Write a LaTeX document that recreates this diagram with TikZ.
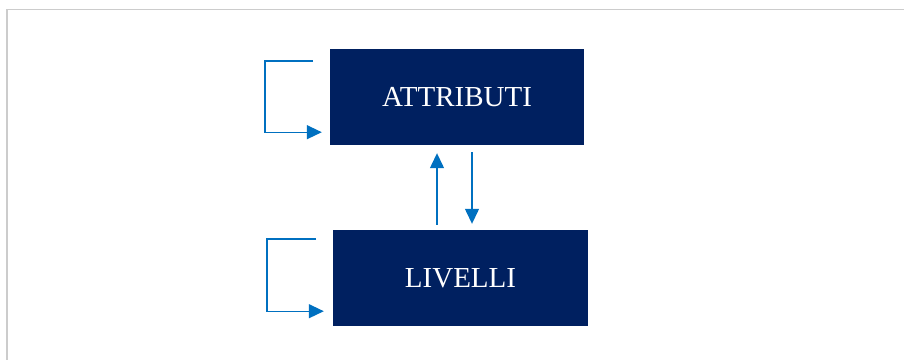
\documentclass[tikz,border=0pt]{standalone}
\usepackage{fontspec}
\setmainfont{Liberation Serif}
\usetikzlibrary{arrows.meta,calc,positioning}
\definecolor{boxnavy}{RGB}{0,32,96}
\definecolor{flowblue}{RGB}{0,112,192}
\definecolor{framegrey}{RGB}{204,204,204}

\begin{document}
\begin{tikzpicture}[x=1pt, y=-1pt,
    box/.style={fill=boxnavy, draw=none, text=white, inner sep=0pt,
        minimum width=254pt, minimum height=96pt,
        font=\fontsize{29}{34}\selectfont},
    flow/.style={draw=flowblue, line width=1.3pt,
        -{Triangle[length=15pt, width=14pt]}}
]
    \useasboundingbox (0,0) rectangle (904,360);

    % 1. cornice grigia (solo lati alto e sinistra visibili)
    \draw[framegrey, line width=1.5pt] (904,9.5) -- (7,9.5) -- (7,360);

    % 2. i due blocchi
    \node[box] (attr) at (457,97) {ATTRIBUTI};
    \node[box, minimum width=255pt] (liv) at (460.5,278) {LIVELLI};

    % 3. anelli di ritorno a sinistra
    \coordinate (attrloop) at (313,61);
    \draw[flow] (attrloop) -- ++(-48,0) |- ([shift={(-8,-13)}]attr.south west);

    \coordinate (livloop) at (316,239);
    \draw[flow] (livloop) -- ++(-49,0) |- ([shift={(-9,-15)}]liv.south west);

    % 4. frecce verticali tra i blocchi
    \draw[flow, shorten <=5pt, shorten >=8pt]
        ([xshift=-23.5pt]liv.north) -- ([xshift=-20pt]attr.south);
    \draw[flow, shorten <=7pt, shorten >=6pt]
        ([xshift=15pt]attr.south) -- ([xshift=11.5pt]liv.north);

\end{tikzpicture}
\end{document}
